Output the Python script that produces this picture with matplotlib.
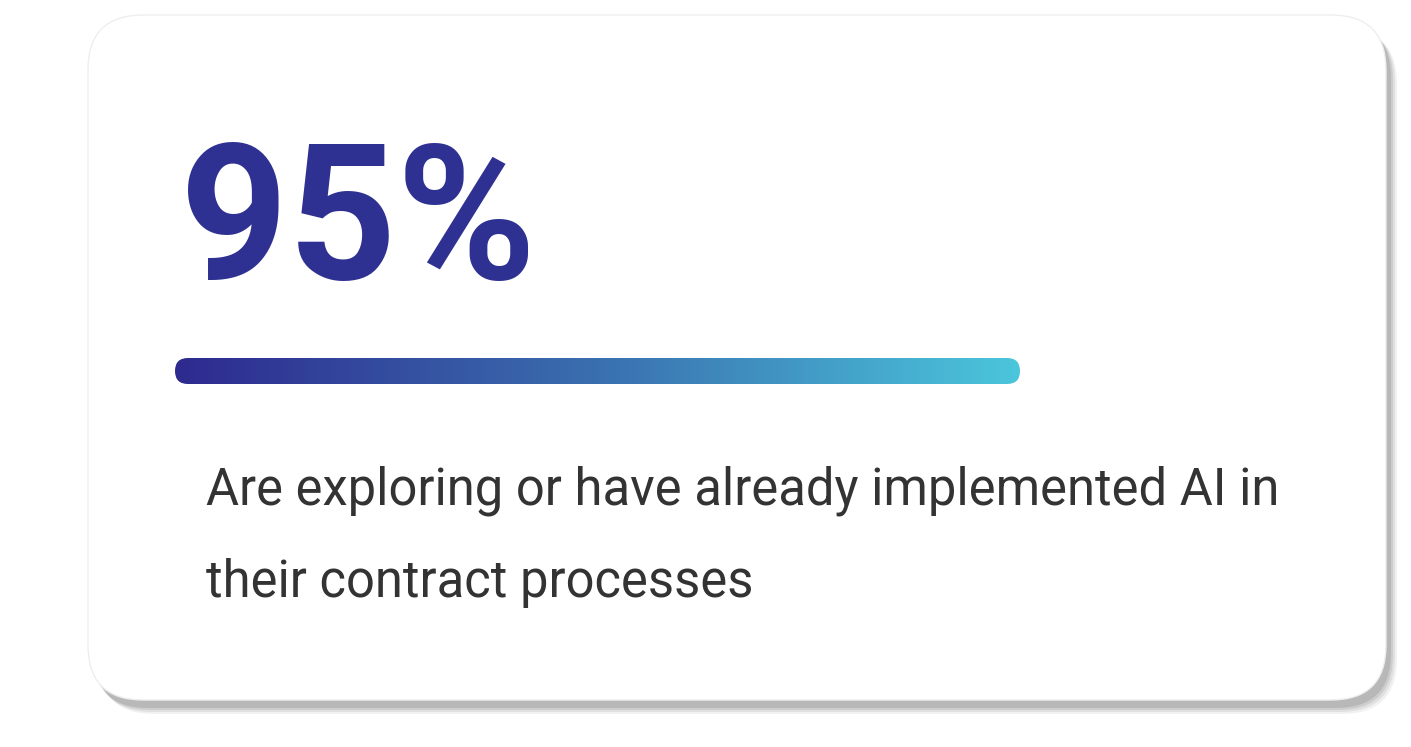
import numpy as np
import matplotlib
matplotlib.use("Agg")
import matplotlib.pyplot as plt
from matplotlib.patches import FancyBboxPatch
from matplotlib.colors import LinearSegmentedColormap

value = 95
value_label = f"{value}%"
caption_lines = ["Are exploring or have already implemented AI in",
                 "their contract processes"]

W, H = 1411, 747
fig = plt.figure(figsize=(W/100, H/100), dpi=100)
ax = fig.add_axes([0, 0, 1, 1])
ax.set_xlim(0, W); ax.set_ylim(H, 0); ax.axis("off")

# shadow
for i, a in enumerate([0.10, 0.14, 0.18, 0.25]):
    d = 9 - i*2
    ax.add_patch(FancyBboxPatch((90+d, 20+d), 1298, 685, boxstyle="round,pad=0,rounding_size=55",
                                fc="#7a7a7a", ec="none", alpha=a, zorder=1))
card = FancyBboxPatch((88, 15), 1298, 685, boxstyle="round,pad=0,rounding_size=55",
                      fc="white", ec="#eeeeee", lw=1, zorder=2)
ax.add_patch(card)

ax.text(180, 279, value_label, fontsize=136, fontweight="bold", family="Roboto",
        color="#2E3192", va="baseline", ha="left", zorder=3)

# gradient bar
x0, x1, y0, h = 175, 1020, 358, 26
cmap = LinearSegmentedColormap.from_list("g", ["#2E2A8F", "#3A6FAF", "#4BC6DC"])
grad = np.linspace(0, 1, 512).reshape(1, -1)
im = ax.imshow(grad, cmap=cmap, extent=(x0, x1, y0+h, y0), aspect="auto", zorder=3)
bar = FancyBboxPatch((x0, y0), x1-x0, h, boxstyle=f"round,pad=0,rounding_size={h/2}",
                     fc="none", ec="none", transform=ax.transData)
ax.add_patch(bar)
im.set_clip_path(bar)
ax.set_xlim(0, W); ax.set_ylim(H, 0)

for i, line in enumerate(caption_lines):
    ax.text(206, 505 + i*92, line, fontsize=36.5, family="Roboto", color="#333333",
            va="baseline", ha="left", zorder=3)

fig.savefig("out.png", dpi=100, facecolor="white")
